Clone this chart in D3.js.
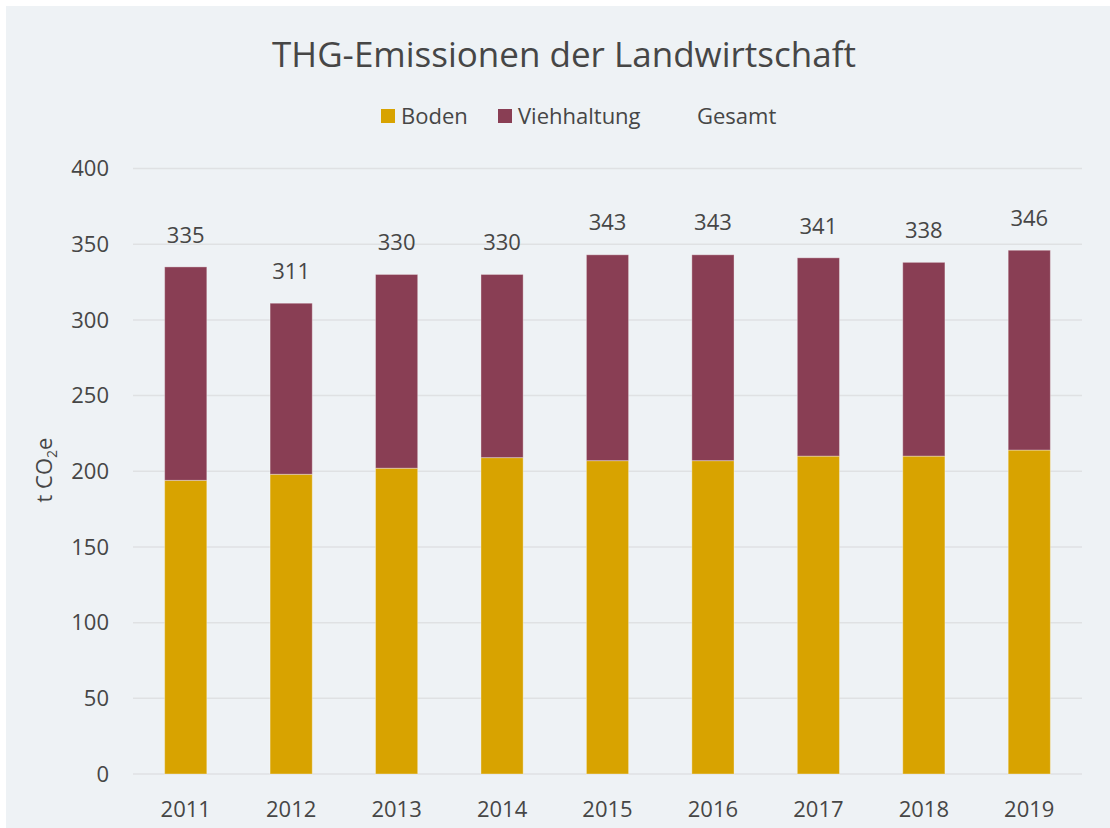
<!DOCTYPE html>
<html lang="de">

<head>
  <style>
    body {
      margin: 0;
      background: #fff;
    }
    text {
      font-family: "Open Sans", "Noto Sans", sans-serif;
      fill: #464646;
    }
    .grid line {
      stroke: #dfe1e3;
      stroke-width: 1.5px;
    }
  </style>
  <script src="https://d3js.org/d3.v7.min.js"></script>
</head>
<body>
  <script>
    const years = ["2011", "2012", "2013", "2014", "2015", "2016", "2017", "2018", "2019"];
    const boden = [194, 198, 202, 209, 207, 207, 210, 210, 214];
    const gesamt = [335, 311, 330, 330, 343, 343, 341, 338, 346];
    const viehhaltung = gesamt.map((g, i) => g - boden[i]);
    const yTicks = [0, 50, 100, 150, 200, 250, 300, 350, 400];

    const W = 1110, H = 828;
    const plot = { left: 133, right: 1082, top: 168.5, bottom: 774 };

    const svg = d3.select("body")
      .append("svg")
      .attr("width", W)
      .attr("height", H);

    svg.append("rect")
      .attr("x", 6)
      .attr("y", 6)
      .attr("width", W - 6)
      .attr("height", H - 6)
      .attr("fill", "#eef2f5");

    const x = d3.scaleBand()
      .domain(years)
      .range([plot.left, plot.right])
      .paddingInner(0.6)
      .paddingOuter(0.3);

    const y = d3.scaleLinear()
      .domain([0, 400])
      .range([plot.bottom, plot.top]);

    // gridlines
    svg.append("g")
      .attr("class", "grid")
      .selectAll("line")
      .data(yTicks)
      .join("line")
      .attr("x1", plot.left)
      .attr("x2", plot.right)
      .attr("y1", d => y(d))
      .attr("y2", d => y(d));

    // y tick labels
    svg.append("g")
      .selectAll("text")
      .data(yTicks)
      .join("text")
      .attr("x", 109)
      .attr("y", d => y(d))
      .attr("dy", "0.35em")
      .attr("text-anchor", "end")
      .style("font-size", "22px")
      .text(d => d);

    // x tick labels
    svg.append("g")
      .selectAll("text")
      .data(years)
      .join("text")
      .attr("x", d => x(d) + x.bandwidth() / 2)
      .attr("y", 809)
      .attr("dy", "0.35em")
      .attr("text-anchor", "middle")
      .style("font-size", "22px")
      .text(d => d);

    const rows = years.map((yr, i) => ({ year: yr, boden: boden[i], vieh: viehhaltung[i], total: gesamt[i] }));
    const stack = d3.stack().keys(["boden", "vieh"])(rows);
    const colors = { boden: "#d8a300", vieh: "#893e54" };

    svg.append("g")
      .selectAll("g")
      .data(stack)
      .join("g")
      .attr("fill", s => colors[s.key])
      .selectAll("rect")
      .data(s => s)
      .join("rect")
      .attr("x", d => x(d.data.year))
      .attr("width", x.bandwidth())
      .attr("y", d => y(d[1]))
      .attr("height", d => y(d[0]) - y(d[1]))
      .attr("stroke", "rgba(255,255,255,0.35)")
      .attr("stroke-width", 1);

    // total labels
    svg.append("g")
      .selectAll("text")
      .data(rows)
      .join("text")
      .attr("x", d => x(d.year) + x.bandwidth() / 2)
      .attr("y", d => y(d.total) - 32)
      .attr("dy", "0.35em")
      .attr("text-anchor", "middle")
      .style("font-size", "22px")
      .text(d => d.total);

    // title
    svg.append("text")
      .attr("x", 564)
      .attr("y", 55)
      .attr("dy", "0.35em")
      .attr("text-anchor", "middle")
      .style("font-size", "35px")
      .text("THG-Emissionen der Landwirtschaft");

    // legend
    const legend = [
      { name: "Boden", color: colors.boden, x: 381 },
      { name: "Viehhaltung", color: colors.vieh, x: 498 },
      { name: "Gesamt", color: null, x: 677 }
    ];
    const lg = svg.append("g")
      .selectAll("g")
      .data(legend)
      .join("g")
      .attr("transform", d => `translate(${d.x},116)`);
    lg.filter(d => d.color)
      .append("rect")
      .attr("x", 0)
      .attr("y", -7)
      .attr("width", 14)
      .attr("height", 14)
      .attr("fill", d => d.color);
    lg.append("text")
      .attr("x", 20)
      .attr("dy", "0.35em")
      .style("font-size", "22px")
      .text(d => d.name);

    // y axis label
    const yl = svg.append("text")
      .attr("transform", "translate(52,470) rotate(-90)")
      .attr("text-anchor", "middle")
      .style("font-size", "22px");
    yl.append("tspan").text("t CO");
    yl.append("tspan").attr("dy", 5).style("font-size", "14px").text("2");
    yl.append("tspan").attr("dy", -5).text("e");
  </script>
</body>
</html>
